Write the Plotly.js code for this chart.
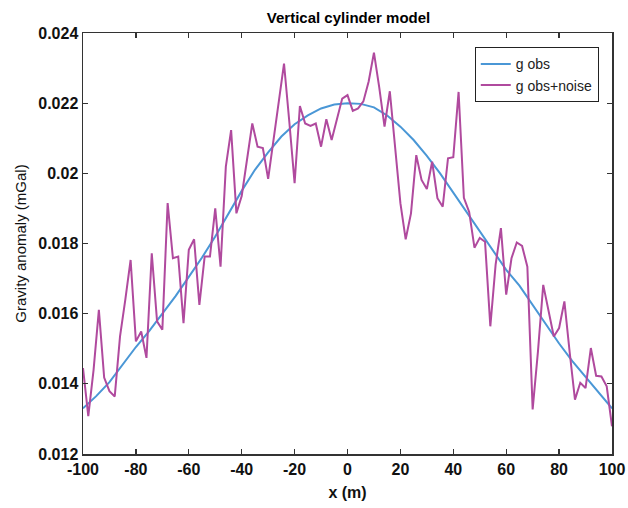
<!DOCTYPE html>
<html>
<head>
<meta charset="utf-8">
<script src="https://cdn.plot.ly/plotly-3.0.1.min.js"></script>
<style>html,body{margin:0;padding:0;background:#fff;}#chart{width:628px;height:508px;}</style>
</head>
<body>
<div id="chart"></div>
<script>
// Smooth model curve (g obs)
const xObs = [-100,-95,-90,-85,-80,-75,-70,-65,-60,-55,-50,-45,-40,-35,-30,-25,-20,-15,-10,-5,0,5,10,15,20,25,30,35,40,45,50,55,60,65,70,75,80,85,90,95,100];
const gObs = [0.01330,0.01365,0.01405,0.01455,0.01505,0.01550,0.01600,0.01650,0.01705,0.01760,0.01820,0.01885,0.01950,0.02010,0.02060,0.02105,0.02140,0.02165,0.02185,0.02196,0.02200,0.02198,0.02188,0.02165,0.02133,0.02095,0.02050,0.02000,0.01945,0.01890,0.01835,0.01780,0.01725,0.01680,0.01625,0.01570,0.01515,0.01465,0.01420,0.01375,0.01330];

// Noisy observations (g obs+noise)
const xNoise = [-100,-98,-96,-94,-92,-90,-88,-86,-84,-82,-80,-78,-76,-74,-72,-70,-68,-66,-64,-62,-60,-58,-56,-54,-52,-50,-48,-46,-44,-42,-40,-38,-36,-34,-32,-30,-28,-26,-24,-22,-20,-18,-16,-14,-12,-10,-8,-6,-4,-2,0,2,4,6,8,10,12,14,16,18,20,22,24,26,28,30,32,34,36,38,40,42,44,46,48,50,52,54,56,58,60,62,64,66,68,70,72,74,76,78,80,82,84,86,88,90,92,94,96,98,100];
const gNoise = [0.01445,0.01308,0.01440,0.01611,0.01418,0.01379,0.01364,0.01535,0.01640,0.01753,
0.01521,0.01549,0.01474,0.01772,0.01578,0.01554,0.01915,0.01758,0.01763,0.01573,
0.01782,0.01812,0.01625,0.01763,0.01763,0.01900,0.01734,0.02019,0.02123,0.01886,
0.01935,0.02045,0.02142,0.02076,0.02072,0.01984,0.02095,0.02210,0.02313,0.02147,
0.01972,0.02192,0.02142,0.02135,0.02142,0.02076,0.02154,0.02095,0.02155,0.02213,
0.02223,0.02178,0.02185,0.02205,0.02262,0.02344,0.02245,0.02133,0.02234,0.02078,
0.01915,0.01812,0.01886,0.02052,0.01981,0.01955,0.02033,0.01929,0.01905,0.02043,
0.02046,0.02232,0.01930,0.01890,0.01788,0.01816,0.01805,0.01564,0.01740,0.01844,
0.01654,0.01758,0.01803,0.01793,0.01734,0.01327,0.01492,0.01682,0.01611,0.01535,
0.01559,0.01635,0.01490,0.01355,0.01403,0.01388,0.01502,0.01423,0.01421,0.01393,
0.01279];

const xTicks = [-100,-80,-60,-40,-20,0,20,40,60,80,100];
const xTickText = ['-100','-80','-60','-40','-20','0','20','40','60','80','100'];
const yTicks = [0.012,0.014,0.016,0.018,0.02,0.022,0.024];
const yTickText = ['0.012','0.014','0.016','0.018','0.02','0.022','0.024'];

const FONT = '"Liberation Sans", Arial, sans-serif';
const tickFont = {family:FONT, size:16, color:'#111', weight:'bold'};
const bold = s => '<b>' + s + '</b>';

const data = [
  {x:xObs, y:gObs, type:'scatter', mode:'lines', name:'g obs',
   line:{color:'#4a97d6', width:2}},
  {x:xNoise, y:gNoise, type:'scatter', mode:'lines', name:'g obs+noise',
   line:{color:'#b04a9e', width:2}}
];

const axisCommon = {
  showgrid:false, zeroline:false, showline:true, linecolor:'#333', linewidth:1.5,
  mirror:'ticks', ticks:'inside', ticklen:5, tickwidth:1.2, tickcolor:'#333',
  tickfont:tickFont, ticklabeloverflow:'allow'
};

const layout = {
  width:628, height:508,
  margin:{l:83, r:16, t:33, b:54},
  paper_bgcolor:'#fff', plot_bgcolor:'#fff',
  title:{text:bold('Vertical cylinder model'), x:0.555, xanchor:'center', y:0.975, yanchor:'top',
         font:{family:FONT, size:15, color:'#000'}},
  xaxis:Object.assign({}, axisCommon, {
    range:[-100,100], tickvals:xTicks, ticktext:xTickText.map(bold),
    title:{text:bold('x (m)'), standoff:10, font:{family:FONT, size:16, color:'#111'}}
  }),
  yaxis:Object.assign({}, axisCommon, {
    range:[0.012,0.024], tickvals:yTicks, ticktext:yTickText.map(bold),
    title:{text:'Gravity anomaly (mGal)', standoff:8, font:{family:FONT, size:15, color:'#111'}}
  }),
  showlegend:true,
  legend:{x:0.975, xanchor:'right', y:0.966, yanchor:'top',
          bgcolor:'#fff', bordercolor:'#222', borderwidth:1,
          font:{family:FONT, size:14, color:'#222'},
          tracegroupgap:0, itemwidth:30}
};

Plotly.newPlot('chart', data, layout, {displayModeBar:false, staticPlot:true});
</script>
</body>
</html>
